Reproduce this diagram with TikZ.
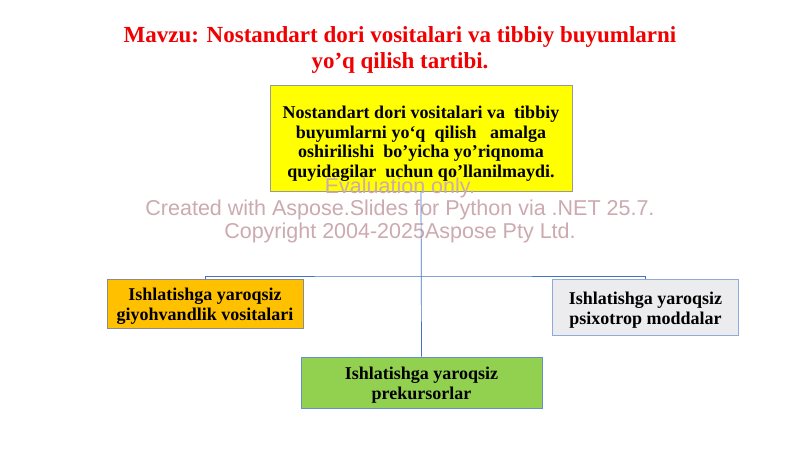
\documentclass[tikz,border=0pt]{standalone}
\usepackage{fontspec}
\setmainfont{Liberation Serif}
\newfontfamily\wmfont{Liberation Sans}
\definecolor{titlered}{RGB}{240,0,0}
\definecolor{boxyellow}{RGB}{255,255,0}
\definecolor{boxorange}{RGB}{255,192,0}
\definecolor{boxgrey}{RGB}{236,236,238}
\definecolor{boxgreen}{RGB}{146,208,80}
\definecolor{linkblue}{RGB}{68,114,196}
\definecolor{wmpink}{RGB}{204,170,175}
\tikzset{
	item/.style = {draw, line width = 0.8pt, align = center, inner sep = 2pt,
		font = \fontsize{18}{20}\selectfont\bfseries},
	link/.style = {draw = linkblue, line width = 0.7pt}
}
\begin{document}
\begin{tikzpicture}[x = 1pt, y = -1pt]
			\useasboundingbox[fill = white] (0,0) rectangle (800,450);
			\node (title) at (400,50) [align = center, text = titlered,
				font = \fontsize{23}{26}\selectfont\bfseries]
				{Mavzu: Nostandart dori vositalari va tibbiy buyumlarni\\ yo’q qilish tartibi.};
			\node (top) at (421,138) [item, fill = boxyellow, draw = gray!80,
				minimum width = 302pt, minimum height = 106pt, font = \fontsize{18}{19.5}\selectfont\bfseries]
				{\mbox{}\\[4pt] Nostandart dori vositalari va\ \ tibbiy\\ buyumlarni yo‘q\ \ qilish\ \ \ amalga\\
				oshirilishi\ \ bo’yicha yo’riqnoma\\ quyidagilar\ \ uchun qo’llanilmaydi.};
			\node (left) at (205,303.5) [item, fill = boxorange, draw = gray!90,
				minimum width = 196pt, minimum height = 49pt]
				{\mbox{}\\[-2pt] Ishlatishga yaroqsiz\\ giyohvandlik vositalari};
			\node (right) at (645.5,307.5) [item, fill = boxgrey, draw = linkblue!60,
				minimum width = 186pt, minimum height = 56pt]
				{\mbox{}\\[-2pt] Ishlatishga yaroqsiz\\ psixotrop moddalar};
			\node (bottom) at (421.5,382.5) [item, fill = boxgreen, draw = linkblue!80,
				minimum width = 241pt, minimum height = 51pt]
				{\mbox{}\\[-2pt] Ishlatishga yaroqsiz\\ prekursorlar};
			\node (mark) at (400,210) [align = center, text = wmpink,
				font = \fontsize{21.5}{22.5}\selectfont\wmfont]
				{Evaluation only.\\ Created with Aspose.Slides for Python via .NET 25.7.\\
				Copyright 2004-2025Aspose Pty Ltd.};
			\coordinate (bus) at (421,276);
			\draw[link] (top.south) -- (bottom.north);
			\draw[link] (left.north) |- (bus) -| (right.north);
\end{tikzpicture}
\end{document}
